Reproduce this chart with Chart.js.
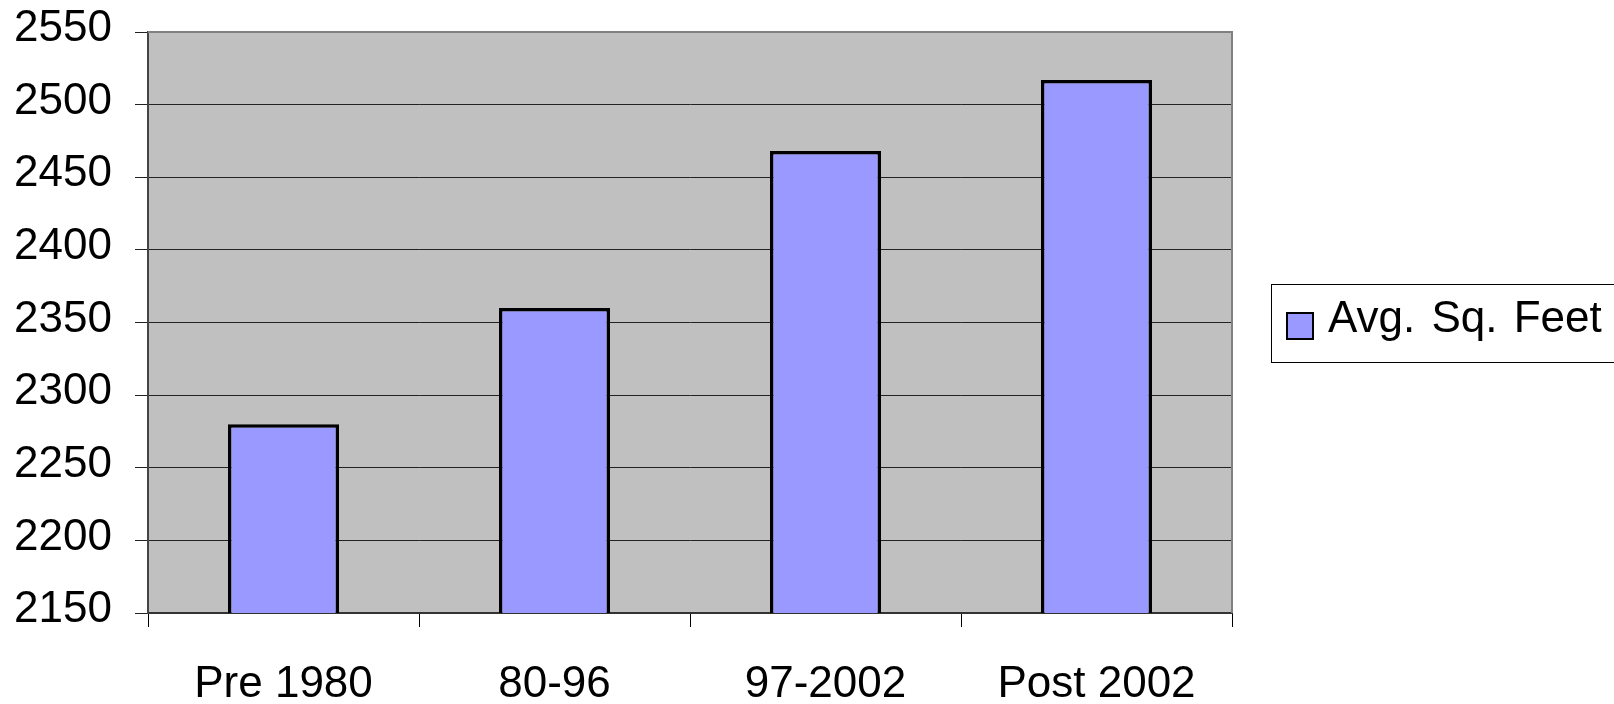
<!DOCTYPE html>
<html>
<head>
<meta charset="utf-8">
<script src="https://cdn.jsdelivr.net/npm/chart.js@4/dist/chart.umd.min.js"></script>
<style>
  html, body { margin: 0; padding: 0; background: #fff; }
  canvas { display: block; }
</style>
</head>
<body>
<canvas id="c" width="1614" height="704"></canvas>
<script>
// Average house size by construction period
const categories = ['Pre 1980', '80-96', '97-2002', 'Post 2002'];
const avgSqFeet = [2280, 2360, 2468, 2517];
const seriesName = 'Avg. Sq. Feet';
const yMin = 2150;
const yMax = 2550;
const yStep = 50;

const FONT = "'Liberation Sans', Arial, Helvetica, sans-serif";

// Grey plot area with a lighter frame on top and right
const plotFrame = {
  id: 'plotFrame',
  beforeDraw(chart) {
    const { ctx, chartArea: a } = chart;
    ctx.save();
    ctx.fillStyle = '#c0c0c0';
    ctx.fillRect(a.left, a.top, a.right - a.left, a.bottom - a.top);
    ctx.restore();
  },
  afterDatasetsDraw(chart) {
    const { ctx, chartArea: a } = chart;
    ctx.save();
    ctx.strokeStyle = '#808080';
    ctx.lineWidth = 2;
    ctx.beginPath();
    ctx.moveTo(a.left, a.top);
    ctx.lineTo(a.right, a.top);
    ctx.lineTo(a.right, a.bottom);
    ctx.stroke();
    ctx.restore();
  }
};

// Boxed legend to the right of the plot, vertically centred on it
const boxLegend = {
  id: 'boxLegend',
  afterDraw(chart) {
    const { ctx, chartArea: a } = chart;
    const ds = chart.data.datasets[0];
    const cy = (a.top + a.bottom) / 2;
    const x0 = a.right + 39;
    const h = 78;
    const y0 = Math.round(cy - h / 2);
    const w = chart.width - x0 + 10;
    ctx.save();
    ctx.fillStyle = '#fff';
    ctx.fillRect(x0, y0, w, h);
    ctx.strokeStyle = '#000';
    ctx.lineWidth = 1;
    ctx.strokeRect(x0 + 0.5, y0 + 0.5, w, h);

    const s = 26;
    const sx = x0 + 16;
    const sy = Math.round(cy - s / 2 + 3);
    ctx.fillStyle = ds.backgroundColor;
    ctx.fillRect(sx, sy, s, s);
    ctx.lineWidth = 2;
    ctx.strokeStyle = '#000';
    ctx.strokeRect(sx, sy, s, s);

    ctx.font = '44px ' + FONT;
    ctx.fillStyle = '#000';
    ctx.textAlign = 'left';
    ctx.textBaseline = 'middle';
    ctx.wordSpacing = '4px';
    ctx.fillText(ds.label, x0 + 57, cy - 3);
    ctx.restore();
  }
};

new Chart(document.getElementById('c'), {
  type: 'bar',
  data: {
    labels: categories,
    datasets: [{
      label: seriesName,
      data: avgSqFeet,
      backgroundColor: '#9999ff',
      borderColor: '#000000',
      borderWidth: 3.5,
      borderSkipped: false,
      barPercentage: 0.41,
      categoryPercentage: 1.0
    }]
  },
  options: {
    responsive: false,
    devicePixelRatio: 1,
    animation: false,
    events: [],
    layout: { padding: { top: 32, right: 382, bottom: 0, left: 0 } },
    plugins: {
      legend: { display: false },
      tooltip: { enabled: false },
      title: { display: false }
    },
    scales: {
      x: {
        afterFit(scale) {
          scale.height = 91;
          scale.paddingLeft = 0;
          scale.paddingRight = 0;
        },
        grid: {
          display: true,
          offset: true,
          drawOnChartArea: false,
          drawTicks: true,
          tickLength: 14,
          color: '#000',
          lineWidth: 1
        },
        border: { display: true, color: '#333', width: 2 },
        ticks: {
          color: '#000',
          font: { family: FONT, size: 44 },
          padding: 31,
          maxRotation: 0,
          autoSkip: false
        }
      },
      y: {
        min: yMin,
        max: yMax,
        afterFit(scale) {
          scale.width = 148;
          scale.paddingTop = 0;
          scale.paddingBottom = 0;
        },
        grid: {
          color: '#222',
          lineWidth: 1,
          tickLength: 13,
          drawTicks: true
        },
        border: { display: true, color: '#444', width: 2 },
        ticks: {
          stepSize: yStep,
          color: '#000',
          font: { family: FONT, size: 44 },
          padding: 23,
          labelOffset: -3,
          callback: (v) => String(v)
        }
      }
    }
  },
  plugins: [plotFrame, boxLegend]
});
</script>
</body>
</html>
